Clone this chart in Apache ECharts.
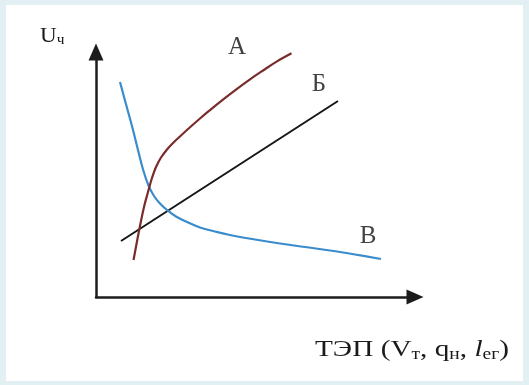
<!DOCTYPE html>
<html>
<head>
<meta charset="utf-8">
<script src="https://cdn.jsdelivr.net/npm/echarts@6/dist/echarts.min.js"></script>
<style>
  html, body { margin: 0; padding: 0; background: #e2eff3; }
  #chart { width: 529px; height: 385px; }
</style>
</head>
<body>
<div id="chart"></div>
<script>
// кривая А (x, y в условных единицах осей 0..100)
const curveA = [
  [11.76, 15.10], [12.70, 21.63], [13.79, 28.98], [15.05, 36.73], [16.30, 42.86],
  [17.55, 48.57], [18.81, 53.06], [20.38, 56.94], [22.26, 60.20], [24.14, 62.86],
  [26.65, 65.92], [29.47, 69.27], [32.60, 72.86], [35.42, 75.96], [39.50, 80.29],
  [43.89, 84.69], [48.28, 88.86], [52.35, 92.45], [56.74, 96.16], [61.29, 99.47]
]
// прямая Б
const lineB = [[7.84, 22.86], [75.86, 80.0]]
// кривая В
const curveV = [
  [7.52, 87.76], [9.56, 77.96], [11.60, 68.16], [13.32, 59.18], [14.89, 51.43],
  [16.46, 45.51], [18.18, 41.22], [20.06, 38.16], [22.26, 35.51], [25.08, 32.86],
  [28.84, 30.41], [32.60, 28.37], [37.30, 26.73], [42.01, 25.31], [49.84, 23.47],
  [57.68, 21.84], [65.52, 20.41], [73.35, 18.98], [81.19, 17.35], [89.34, 15.51]
]
// подписи кривых
const curveLabels = [[44.2, 102.0, 'А'], [69.9, 86.9, 'Б'], [85.3, 24.9, 'В']]

const serif = '"Liberation Serif", "DejaVu Serif", serif'
const axisLine = {
  show: true,
  symbol: ['none', 'triangle'],
  symbolSize: [15, 17],
  lineStyle: { color: '#1c1c1c', width: 2.5 }
}

const chart = echarts.init(document.getElementById('chart'))
chart.setOption({
  backgroundColor: '#e2eff3',
  animation: false,
  grid: { left: 96, right: 114, top: 52, bottom: 88 },
  xAxis: {
    type: 'value', min: 0, max: 100,
    axisLine: axisLine,
    axisTick: { show: false }, axisLabel: { show: false }, splitLine: { show: false }
  },
  yAxis: {
    type: 'value', min: 0, max: 100,
    axisLine: axisLine,
    axisTick: { show: false }, axisLabel: { show: false }, splitLine: { show: false }
  },
  graphic: [
    {
      type: 'rect', z: -10, silent: true,
      shape: { x: 6, y: 5, width: 517, height: 376 },
      style: { fill: '#ffffff' }
    },
    {
      type: 'text', x: 40, y: 36, scaleX: 1.1,
      style: {
        text: '{m|U}{s|ч}',
        align: 'left', verticalAlign: 'middle',
        fill: '#1a1a1a',
        rich: {
          m: { fontFamily: serif, fontSize: 21, lineHeight: 22, color: '#1a1a1a' },
          s: { fontFamily: serif, fontSize: 14, lineHeight: 12, verticalAlign: 'bottom', color: '#1a1a1a' }
        }
      }
    },
    {
      type: 'text', x: 509, y: 350, scaleX: 1.22,
      style: {
        text: '{m|ТЭП (V}{s|т}{m|, q}{s|н}{m|, }{i|l}{s|ег}{m|)}',
        align: 'right', verticalAlign: 'middle',
        fill: '#1a1a1a',
        rich: {
          m: { fontFamily: serif, fontSize: 24, lineHeight: 26, color: '#1a1a1a' },
          i: { fontFamily: serif, fontSize: 24, lineHeight: 26, fontStyle: 'italic', color: '#1a1a1a' },
          s: { fontFamily: serif, fontSize: 16, lineHeight: 14, verticalAlign: 'bottom', color: '#1a1a1a' }
        }
      }
    }
  ],
  series: [
    {
      name: 'Б', type: 'line', data: lineB, symbol: 'none',
      lineStyle: { color: '#161616', width: 2 }, z: 3
    },
    {
      name: 'В', type: 'line', data: curveV, symbol: 'none', smooth: 0.4,
      lineStyle: { color: '#3a8ccc', width: 2.2 }, z: 4
    },
    {
      name: 'А', type: 'line', data: curveA, symbol: 'none', smooth: 0.4,
      lineStyle: { color: '#7a2c2c', width: 2.2 }, z: 5
    },
    {
      name: 'labels', type: 'scatter', data: curveLabels, symbolSize: 0, clip: false,
      label: {
        show: true, position: 'inside',
        formatter: (p) => p.value[2],
        fontFamily: serif, fontSize: 25, color: '#111111'
      }
    }
  ]
})
</script>
</body>
</html>
